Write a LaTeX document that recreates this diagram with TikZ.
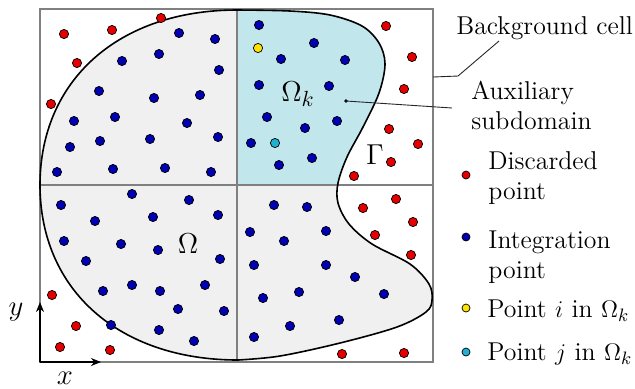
\documentclass[tikz,border=0pt]{standalone}
\usetikzlibrary{arrows.meta}
\definecolor{domgrey}{RGB}{240,240,240}
\definecolor{subcyan}{RGB}{193,231,237}
\definecolor{gridgrey}{RGB}{128,128,128}
\definecolor{ptred}{RGB}{228,0,0}
\definecolor{ptblue}{RGB}{0,0,176}
\definecolor{ptyellow}{RGB}{255,226,0}
\definecolor{ptcyan}{RGB}{30,178,208}
\begin{document}
\begin{tikzpicture}[x=0.5pt,y=-0.5pt,
  font=\fontsize{12.9}{15}\selectfont,
  gridline/.style={draw=gridgrey,line width=0.75pt},
  boundary/.style={draw=black,line width=0.8pt},
  dot/.style={circle,draw=black,line width=0.35pt,inner sep=0pt,minimum size=4.6pt},
  legdot/.style={circle,draw=black,line width=0.35pt,inner sep=0pt,minimum size=4pt},
  leader/.style={draw=black!85,line width=0.45pt},
  lbl/.style={inner sep=0pt,anchor=base west,align=left},
  mathlbl/.style={inner sep=0pt,font=\fontsize{15}{18}\selectfont},
  axis/.style={draw=black,line width=0.7pt,-{Stealth[length=5pt,width=4pt]}}]
\useasboundingbox (0,0) rectangle (635,388);
\def\domainpath{plot[smooth,tension=0.55] coordinates {(237,10) (290,11) (330,15) (362,26) (379,43) (385,64) (379,93) (363,127) (347,157) (338,183) (338,203) (349,224) (372,244) (410,264) (429,284) (432,300) (426,312) (397,327) (340,343) (280,356) (238,360)}
  .. controls (119,360) and (40,290) .. (40,185)
  .. controls (40,80) and (119,10) .. (237,10) -- cycle}
% domain fill
\fill[domgrey] \domainpath;
\begin{scope}
  \clip (237,9) rectangle (433,185);
  \fill[subcyan] \domainpath;
\end{scope}
% grid
\draw[gridline] (40,9) rectangle (433,362);
\draw[gridline] (237,9) -- (237,362);
\draw[gridline] (40,185) -- (433,185);
% boundary
\draw[boundary] \domainpath;
% discarded points
\foreach \p [count=\i] in {(64,34),(112,30),(161,18),(77,63),(51,104),(386,26),(412,57),(404,89),(389,129),(418,144),(391,162),(354,176),(52,295),(76,326),(60,347),(110,350),(363,208),(396,199),(413,222),(375,235),(411,255),(342,354),(404,353)}
  \node[dot,fill=ptred] (r\i) at \p {};
% integration points
\foreach \p [count=\i] in {(179,33),(215,39),(159,54),(122,61),(219,70),(99,91),(154,98),(200,95),(74,121),(115,117),(187,123),(70,147),(100,141),(150,139),(218,137),(57,172),(113,169),(165,168),(211,172),
  (259,25),(314,43),(281,59),(345,60),(259,85),(329,86),(267,117),(305,128),(337,121),(251,143),(279,165),(312,158),
  (61,205),(132,194),(189,200),(95,221),(153,217),(218,215),(64,241),(121,244),(158,250),(86,261),(220,259),(103,291),(132,285),(160,291),(205,285),(178,309),(224,311),(111,325),(159,330),(194,341),
  (274,205),(307,207),(250,232),(284,241),(326,231),(254,265),(326,265),(355,277),(263,298),(299,292),(384,294),(290,326),(339,320),(254,337)}
  \node[dot,fill=ptblue] (b\i) at \p {};
\node[dot,fill=ptyellow] (pi) at (258,48) {};
\node[dot,fill=ptcyan] (pj) at (275,143) {};
% labels in domain
\node[mathlbl] (omk) at (298,94) {$\Omega_k$};
\node[mathlbl] (om) at (188,244) {$\Omega$};
\node[mathlbl] (gam) at (375,155) {$\Gamma$};
% axes
\coordinate (orig) at (40,362);
\coordinate (ytip) at (40,302);
\coordinate (xtip) at (101,362);
\draw[axis] (orig) -- (ytip);
\draw[axis] (orig) -- (xtip);
\node[mathlbl] (ylab) at (16,312) {$y$};
\node[mathlbl] (xlab) at (65,378) {$x$};
% background cell leader
\coordinate (bcA) at (433,77);
\coordinate (bcB) at (458,76);
\coordinate (bcC) at (499,41);
\draw[leader] (bcA) -- (bcB) -- (bcC);
\node[lbl] (bgtext) at (456,34) {Background cell};
% auxiliary subdomain leader
\fill[black] (346,101) circle (0.9pt);
\coordinate (auxA) at (346,101);
\coordinate (auxB) at (452,108);
\draw[leader] (auxA) -- (auxB);
\node[lbl] (auxtext) at (471,129) {Auxiliary\\subdomain};
% legend
\node[legdot,fill=ptred] (lr) at (466,175) {};
\node[lbl] (ltr) at (488,199) {Discarded\\point};
\node[legdot,fill=ptblue] (lb) at (466,237) {};
\node[lbl] (ltb) at (488,278) {Integration\\point};
\node[legdot,fill=ptyellow] (ly) at (466,308) {};
\node[lbl] (lty) at (487,317) {Point $i$ in $\Omega_k$};
\node[legdot,fill=ptcyan] (lc) at (466,352) {};
\node[lbl] (ltc) at (487,360) {Point $j$ in $\Omega_k$};
\end{tikzpicture}
\end{document}
